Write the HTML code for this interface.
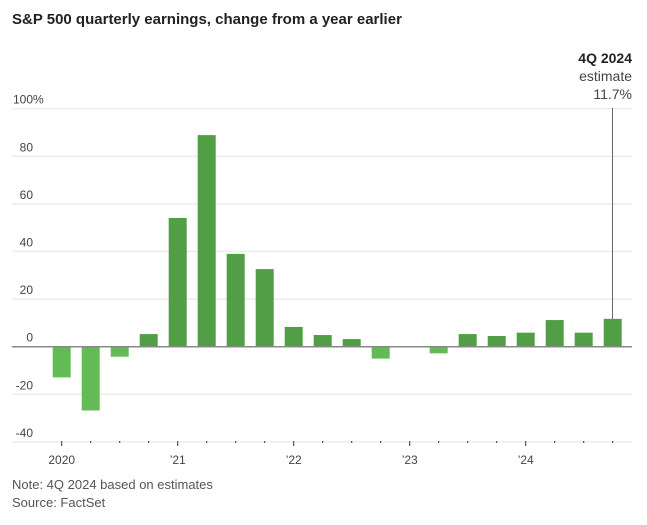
<!DOCTYPE html>
<html><head><meta charset="utf-8">
<style>
body{margin:0;background:#fff;font-family:"Liberation Sans",sans-serif;}
svg text{font-family:"Liberation Sans",sans-serif;}
</style></head>
<body>
<svg id="c" width="647" height="520">
<text x="12" y="24" font-size="15" font-weight="bold" fill="#222">S&amp;P 500 quarterly earnings, change from a year earlier</text>
<g id="grid"></g><g id="bars"></g><g id="axis"></g>
<line x1="612.5" y1="108" x2="612.5" y2="319" stroke="#666" stroke-width="1"/>
<text x="632" y="63" font-size="14" font-weight="bold" text-anchor="end" fill="#222">4Q 2024</text>
<text x="632" y="81" font-size="14" text-anchor="end" fill="#444">estimate</text>
<text x="632" y="99" font-size="14" text-anchor="end" fill="#444">11.7%</text>
<text x="12" y="489" font-size="13" fill="#555">Note: 4Q 2024 based on estimates</text>
<text x="12" y="507" font-size="13" fill="#555">Source: FactSet</text>
</svg>
<script>
const quarters=["1Q20","2Q20","3Q20","4Q20","1Q21","2Q21","3Q21","4Q21","1Q22","2Q22","3Q22","4Q22","1Q23","2Q23","3Q23","4Q23","1Q24","2Q24","3Q24","4Q24"];
const values=[-12.9,-26.8,-4.2,5.3,54.1,88.9,39,32.6,8.3,4.9,3.2,-5.0,0,-2.8,5.3,4.5,5.9,11.2,5.9,11.7];
const yTicks=[100,80,60,40,20,0,-20,-40];
const yearLabels=["2020","\u201921","\u201922","\u201923","\u201924"];
const NS="http://www.w3.org/2000/svg";
const y=v=>346.7-v*2.38;
const x=i=>61.7+i*29;
const grid=document.getElementById('grid'),bars=document.getElementById('bars'),axis=document.getElementById('axis');
function mk(tag,attrs,parent){const e=document.createElementNS(NS,tag);for(const k in attrs)e.setAttribute(k,attrs[k]);parent.appendChild(e);return e;}
yTicks.forEach(t=>{
 if(t!==0){const l=mk('line',{x1:12,x2:632,y1:y(t),y2:y(t),stroke:'#ececec','stroke-width':1.5},grid);
 
 }
 const tx=mk('text',{x:t===100?13:33,y:y(t)-5,'font-size':12,fill:'#444','text-anchor':t===100?'start':'end'},grid);
 tx.textContent=t===100?'100%':String(t);
 
 
});
values.forEach((v,i)=>{
 const r=mk('rect',{x:x(i)-9,width:18,y:Math.min(y(v),y(0)),height:Math.abs(y(v)-y(0)),fill:v>=0?'#529e47':'#62bb55'},bars);
 
 
 const tk=mk('line',{x1:x(i),x2:x(i),y1:441,y2:i%4===0?446:443,stroke:'#333','stroke-width':1},axis);
 
 
});
const z=mk('line',{x1:12,x2:632,y1:y(0),y2:y(0),stroke:'#888','stroke-width':1.5},axis);


yearLabels.forEach((s,k)=>{
 const t=mk('text',{x:x(k*4),y:464,'font-size':12,fill:'#444','text-anchor':'middle'},axis);
 t.textContent=s;
 
 
});
</script>
</body></html>
